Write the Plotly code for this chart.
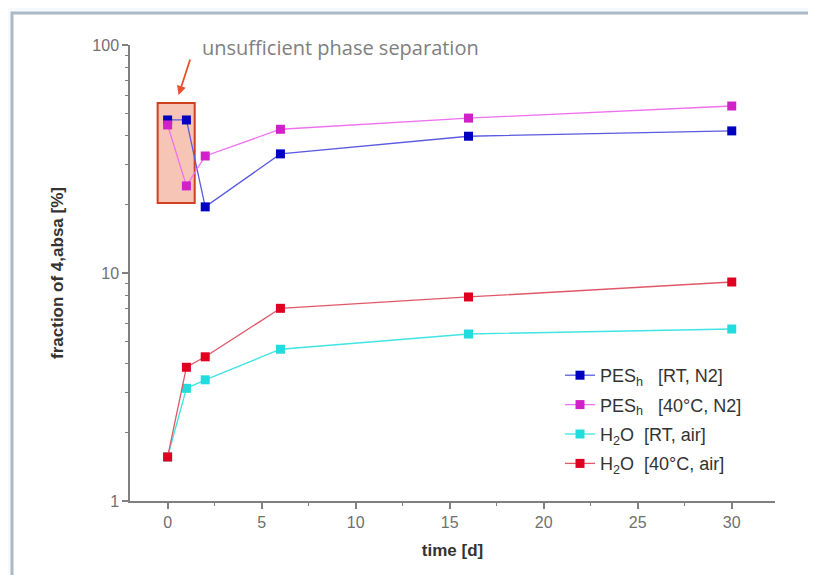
import math
import plotly.graph_objects as go

# ---- data ----
time_d = [0, 1, 2, 6, 16, 30]
pes_rt_n2 = [46.9, 46.9, 19.5, 33.3, 39.8, 42.0]
pes_40_n2 = [44.6, 24.1, 32.6, 42.7, 47.8, 54.0]
h2o_rt_air = [1.56, 3.12, 3.40, 4.63, 5.40, 5.68]
h2o_40_air = [1.56, 3.86, 4.29, 7.00, 7.85, 9.13]

series_names = [
    "PES<sub>h</sub>   [RT, N2]",
    "PES<sub>h</sub>   [40°C, N2]",
    "H<sub>2</sub>O  [RT, air]",
    "H<sub>2</sub>O  [40°C, air]",
]
x_ticks = [0, 5, 10, 15, 20, 25, 30]
y_ticks = [1, 10, 100]
y_tick_labels = ["1", "10", "100"]
y_minor = [m * d for d in (1, 10) for m in range(2, 10)]

# highlighted region (data coords)
box_x = [-0.53, 1.44]
box_y = [20.3, 55.7]
note_text = "unsufficient phase separation"

series = [pes_rt_n2, pes_40_n2, h2o_rt_air, h2o_40_air]
line_colors = ["#5a5ae0", "#f070f0", "#40e4e4", "#e05868"]
marker_colors = ["#0000c0", "#d020c8", "#20dcdc", "#e00020"]

fig = go.Figure()
for i, (name, vals, lc, mc) in enumerate(zip(series_names, series, line_colors, marker_colors)):
    fig.add_trace(go.Scatter(
        x=time_d, y=vals, name=name, mode="lines+markers", legendgroup=str(i),
        line=dict(color=lc, width=1.3),
        marker=dict(symbol="square", size=9, color=mc, line=dict(width=0)),
    ))

# page has an 8px body margin: figure coords = page coords - 8
W, H = 808, 567
L, R, T, B = 122, 41, 37, 74
pw, ph = W - L - R, H - T - B

def px_to_paper_x(px):
    return (px - L) / pw

def px_to_paper_y(py):
    return 1 - (py - T) / ph

fig.add_shape(type="rect", xref="paper", yref="paper",
              x0=px_to_paper_x(4), x1=px_to_paper_x(830),
              y0=px_to_paper_y(590), y1=px_to_paper_y(5),
              line=dict(color="#a9b9c5", width=3), fillcolor="white", layer="below")

fig.add_shape(type="rect", xref="x", yref="y",
              x0=box_x[0], x1=box_x[1], y0=box_y[0], y1=box_y[1],
              line=dict(color="#d04020", width=2),
              fillcolor="rgba(240,150,120,0.55)", layer="below")

fig.add_annotation(x=0.585, y=1.781, xref="x", yref="y",
                   ax=12, ay=-37, showarrow=True, arrowhead=2, arrowsize=1,
                   arrowwidth=1.8, arrowcolor="#e8502a", text="")
fig.add_annotation(x=1.72, y=1.991, xref="x", yref="y", text=note_text,
                   showarrow=False, xanchor="left", yanchor="middle",
                   font=dict(family="Open Sans", size=20, color="#808080"))

axis_common = dict(showline=True, linecolor="#808080", linewidth=1.5,
                   ticks="outside", tickcolor="#808080", ticklen=6, tickwidth=1.5,
                   showgrid=False, zeroline=False,
                   tickfont=dict(family="Liberation Sans Narrow, Liberation Sans, Arial", size=16, color="#707070"))

fig.update_xaxes(range=[-2, 32.3], tickvals=x_ticks,
                 minor=dict(dtick=2.5, ticks="outside", ticklen=3, tickcolor="#808080", tickwidth=1.2),
                 title=dict(text="<b>time [d]</b>", standoff=14,
                            font=dict(family="Liberation Sans, Arial", size=17, color="#333333")),
                 **axis_common)
fig.update_yaxes(type="log", range=[0, 2], tickvals=y_ticks, ticktext=y_tick_labels,
                 minor=dict(tickvals=y_minor, ticks="outside", ticklen=3, tickcolor="#808080", tickwidth=1.2),
                 title=dict(text="<b>fraction of 4,absa [%]</b>", standoff=24,
                            font=dict(family="Liberation Sans, Arial", size=17, color="#333333")),
                 **axis_common)

fig.update_layout(
    width=W, height=H,
    margin=dict(l=L, r=R, t=T, b=B),
    paper_bgcolor="#f5faff", plot_bgcolor="white",
    showlegend=True,
    legend=dict(x=px_to_paper_x(552), y=px_to_paper_y(349), xanchor="left", yanchor="top",
                bgcolor="rgba(255,255,255,0)",
                font=dict(family="Liberation Sans, Arial", size=18, color="#333333"),
                tracegroupgap=3),
    font=dict(family="Liberation Sans, Arial"),
)

fig.write_html("out.html")
